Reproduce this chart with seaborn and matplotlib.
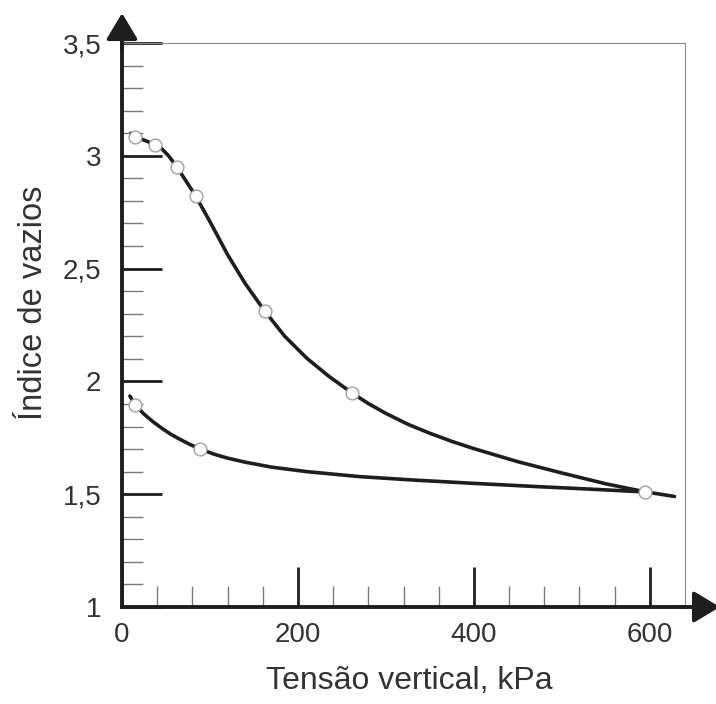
import numpy as np
import matplotlib
matplotlib.use("Agg")
import matplotlib.pyplot as plt
from matplotlib.ticker import FixedLocator, FuncFormatter
import seaborn as sns

# curves (kPa, void ratio)
load_x = [10, 15, 28, 37, 45, 53, 62, 72, 84, 100, 120, 140, 162, 185, 210, 235, 261,
          280, 300, 325, 350, 375, 400, 450, 500, 550, 594, 628]
load_y = [3.10, 3.085, 3.065, 3.05, 3.032, 3.0, 2.952, 2.893, 2.82, 2.708, 2.562, 2.434, 2.313,
          2.20, 2.103, 2.023, 1.95, 1.902, 1.858, 1.81, 1.77, 1.734, 1.702, 1.644, 1.594,
          1.546, 1.511, 1.49]
unload_x = [594, 540, 475, 400, 330, 270, 210, 170, 140, 120, 105, 89, 77, 65, 55, 45, 35, 25, 15, 9]
unload_y = [1.51, 1.521, 1.533, 1.548, 1.563, 1.578, 1.60, 1.62, 1.642, 1.66, 1.677, 1.70, 1.721,
            1.745, 1.767, 1.793, 1.822, 1.855, 1.895, 1.935]

# measured points (open circles)
pts_x = [15, 37, 62, 84, 162, 261, 594, 15, 89]
pts_y = [3.085, 3.05, 2.952, 2.82, 2.313, 1.95, 1.511, 1.895, 1.70]

x_major = [0, 200, 400, 600]
x_minor = [40, 80, 120, 160, 240, 280, 320, 360, 440, 480, 520, 560]
y_major = [1, 1.5, 2, 2.5, 3, 3.5]
y_minor = [round(v, 1) for v in np.arange(1.1, 3.45, 0.1) if round(v, 1) not in y_major]

sns.set_style("white")
plt.rcParams['font.family'] = ['Liberation Sans', 'DejaVu Sans']

fig = plt.figure(figsize=(7.16, 7.04), dpi=100)
ax = fig.add_axes([0.1704, 0.1378, 0.7863, 0.8011])

ink = '#1e1e1e'
sns.lineplot(x=load_x, y=load_y, sort=False, ax=ax, color=ink, lw=2.6, estimator=None)
sns.lineplot(x=unload_x, y=unload_y, sort=False, ax=ax, color=ink, lw=2.6, estimator=None)
sns.scatterplot(x=pts_x, y=pts_y, ax=ax, s=85, color='white', edgecolor='#a0a0a0',
                linewidth=1.0, zorder=5)

ax.set_xlim(0, 640)
ax.set_ylim(1, 3.5)

# frame: thick left/bottom, thin grey top/right
for side in ['left', 'bottom']:
    ax.spines[side].set_linewidth(2.8)
    ax.spines[side].set_color(ink)
for side in ['top', 'right']:
    ax.spines[side].set_linewidth(0.8)
    ax.spines[side].set_color('#8a8a8a')

# arrows on axes
arrow = dict(arrowstyle='-|>,head_length=1.0,head_width=0.6', lw=2.8, color=ink,
             shrinkA=0, shrinkB=0, mutation_scale=16)
ax.annotate('', xy=(0, 1.053), xytext=(0, 0.99), xycoords='axes fraction', arrowprops=arrow,
            annotation_clip=False)
ax.annotate('', xy=(1.062, 0), xytext=(0.99, 0), xycoords='axes fraction', arrowprops=arrow,
            annotation_clip=False)

ax.xaxis.set_major_locator(FixedLocator(x_major))
ax.xaxis.set_minor_locator(FixedLocator(x_minor))
ax.yaxis.set_major_locator(FixedLocator(y_major))
ax.yaxis.set_minor_locator(FixedLocator(y_minor))
ax.yaxis.set_major_formatter(FuncFormatter(lambda v, p: f'{v:g}'.replace('.', ',')))

ax.tick_params(which='major', direction='in', length=29, width=2.0, color=ink,
               labelsize=20, labelcolor='#333333')
ax.tick_params(which='minor', direction='in', length=15, width=1.0, color='#7a7a7a')
ax.tick_params(axis='x', which='major', pad=11)
ax.tick_params(axis='y', which='major', pad=15)
ax.tick_params(bottom=True, left=True, which='both')

ax.set_xlabel('Tensão vertical, kPa', fontsize=23, color='#333333')
ax.set_ylabel('Índice de vazios', fontsize=23.5, color='#333333')
ax.xaxis.set_label_coords(0.51, -0.105)
ax.yaxis.set_label_coords(-0.13, 0.539)

fig.savefig('out.png', dpi=100)
